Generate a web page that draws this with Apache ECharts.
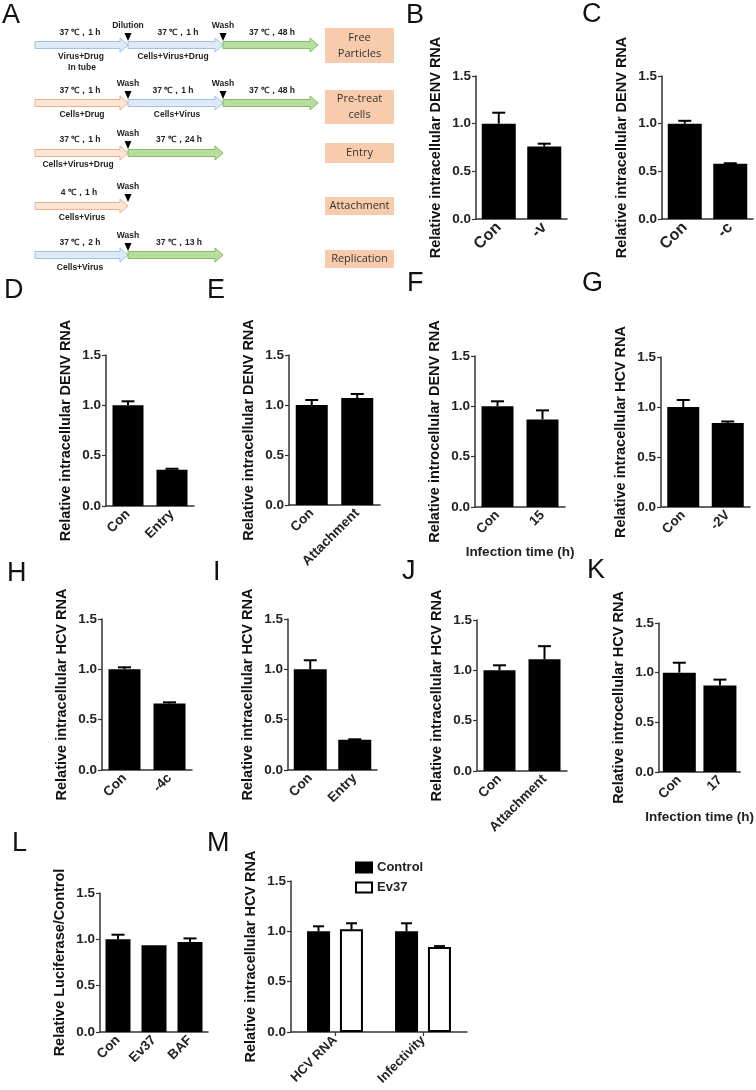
<!DOCTYPE html>
<html><head><meta charset="utf-8">
<script src="https://cdn.jsdelivr.net/npm/echarts@6/dist/echarts.min.js"></script>
<style>html,body{margin:0;padding:0;background:#fff}#c{width:756px;height:1090px}</style>
</head><body><div id="c"></div>
<script>
// ---------- data ----------
const yTicks = [0, 0.5, 1.0, 1.5];
const catsB = ['Con', '-v'],        valsB = [1.00, 0.76], errB = [0.115, 0.03];
const catsC = ['Con', '-c'],        valsC = [1.00, 0.58], errC = [0.03, 0.005];
const catsD = ['Con', 'Entry'],     valsD = [1.00, 0.36], errD = [0.04, 0.01];
const catsE = ['Con', 'Attachment'],valsE = [1.00, 1.07], errE = [0.05, 0.04];
const catsF = ['Con', '15'],        valsF = [1.00, 0.87], errF = [0.05, 0.09];
const catsG = ['Con', '-2V'],       valsG = [1.00, 0.84], errG = [0.07, 0.015];
const catsH = ['Con', '-4c'],       valsH = [1.00, 0.66], errH = [0.02, 0.012];
const catsI = ['Con', 'Entry'],     valsI = [1.00, 0.30], errI = [0.09, 0.005];
const catsJ = ['Con', 'Attachment'],valsJ = [1.00, 1.11], errJ = [0.05, 0.13];
const catsK = ['Con', '17'],        valsK = [1.00, 0.87], errK = [0.10, 0.06];
const catsL = ['Con', 'Ev37', 'BAF'], valsL = [1.00, 0.935, 0.97], errL = [0.05, 0, 0.04];
const catsM = ['HCV RNA', 'Infectivity'];
const ctrlM = [1.00, 1.00], ctrlErrM = [0.05, 0.08];
const ev37M = [1.02, 0.845], ev37ErrM = [0.06, 0.008];

// ---------- layout / style ----------
const FONT = 'Liberation Sans';
const panels = [
  {id:'B', cats:catsB, vals:valsB, err:errB, yname:'Relative intracellular DENV RNA', g:{left:476,top:76,width:91,height:143}, bw:34, cf:16},
  {id:'C', cats:catsC, vals:valsC, err:errC, yname:'Relative intracellular DENV RNA', g:{left:662,top:76,width:91,height:143}, bw:34, cf:16},
  {id:'D', cats:catsD, vals:valsD, err:errD, yname:'Relative intracellular DENV RNA', g:{left:106,top:355,width:88,height:151}, bw:31},
  {id:'E', cats:catsE, vals:valsE, err:errE, yname:'Relative intracellular DENV RNA', g:{left:289,top:355,width:91,height:150}, bw:32},
  {id:'F', cats:catsF, vals:valsF, err:errF, yname:'Relative introcellular DENV RNA', g:{left:475,top:356,width:90,height:151}, bw:32, xname:'Infection time (h)'},
  {id:'G', cats:catsG, vals:valsG, err:errG, yname:'Relative intracellular HCV RNA', g:{left:661,top:357,width:89,height:150}, bw:32},
  {id:'H', cats:catsH, vals:valsH, err:errH, yname:'Relative intracellular HCV RNA', g:{left:102,top:619,width:90,height:151}, bw:32},
  {id:'I', cats:catsI, vals:valsI, err:errI, yname:'Relative intracellular HCV RNA', g:{left:288,top:619,width:89,height:151}, bw:33},
  {id:'J', cats:catsJ, vals:valsJ, err:errJ, yname:'Relative intracellular HCV RNA', g:{left:477,top:620,width:90,height:151}, bw:32},
  {id:'K', cats:catsK, vals:valsK, err:errK, yname:'Relative introcellular HCV RNA', g:{left:659,top:623,width:91,height:149}, bw:33, xname:'Infection time (h)'},
  {id:'L', cats:catsL, vals:valsL, err:errL, yname:'Relative Luciferase/Control', g:{left:100,top:893,width:108,height:139}, bw:25}
];

const grids = [], xAxes = [], yAxes = [], series = [];

function yAxisCfg(i, name) {
  return {
    type:'value', gridIndex:i, min:yTicks[0], max:yTicks[yTicks.length-1], interval:0.5,
    name:name, nameLocation:'middle', nameGap:33, nameRotate:90,
    nameTextStyle:{fontFamily:FONT, fontWeight:'bold', fontSize:14.5, color:'#111'},
    axisLine:{show:true, lineStyle:{color:'#333', width:1.5}},
    axisTick:{show:true, length:4, lineStyle:{color:'#333', width:1.2}},
    splitLine:{show:false},
    axisLabel:{formatter:v=>v.toFixed(1), fontFamily:FONT, fontWeight:'bold', fontSize:13.5, color:'#222', margin:5}
  };
}
function xAxisCfg(i, cats, name, ticks, cf) {
  const c = {
    type:'category', gridIndex:i, data:cats,
    axisLine:{show:true, lineStyle:{color:'#333', width:1.5}},
    axisTick:{show:!!ticks, alignWithLabel:true, length:4, lineStyle:{color:'#333', width:1.2}},
    axisLabel:{rotate:45, interval:0, fontFamily:FONT, fontWeight:'bold', fontSize:cf || 13.5, color:'#222', margin:6}
  };
  if (name) {
    c.name = name; c.nameLocation = 'middle'; c.nameGap = 38;
    c.nameTextStyle = {fontFamily:FONT, fontWeight:'bold', fontSize:13.5, color:'#222'};
  }
  return c;
}
function errSeries(i, vals, err, off, cap) {
  return {
    type:'custom', xAxisIndex:i, yAxisIndex:i, z:5,
    data: vals.map((v, k) => [k, v, err[k]]),
    encode:{x:0, y:1},
    renderItem:function(params, api){
      const e = api.value(2);
      if (!e) return null;
      const p0 = api.coord([api.value(0), api.value(1)]);
      const p1 = api.coord([api.value(0), api.value(1) + e]);
      const x = p0[0] + off;
      return {type:'group', children:[
        {type:'line', shape:{x1:x, y1:p0[1], x2:x, y2:p1[1]}, style:{stroke:'#000', lineWidth:2}},
        {type:'line', shape:{x1:x-cap, y1:p1[1], x2:x+cap, y2:p1[1]}, style:{stroke:'#000', lineWidth:2}}
      ]};
    }
  };
}

panels.forEach((p, i) => {
  grids.push(Object.assign({containLabel:false}, p.g));
  xAxes.push(xAxisCfg(i, p.cats, p.xname, false, p.cf));
  yAxes.push(yAxisCfg(i, p.yname));
  series.push({type:'bar', xAxisIndex:i, yAxisIndex:i, data:p.vals, barWidth:p.bw,
    itemStyle:{color:'#000'}, silent:true});
  series.push(errSeries(i, p.vals, p.err, 0, 6.5));
});

// Panel M (grouped)
const mi = panels.length;
grids.push({left:291, top:881, width:176, height:151});
xAxes.push(xAxisCfg(mi, catsM, null, true, 13));
yAxes.push(yAxisCfg(mi, 'Relative intracellular HCV RNA'));
series.push({name:'Control', type:'bar', xAxisIndex:mi, yAxisIndex:mi, data:ctrlM, barWidth:23, barGap:'43%',
  itemStyle:{color:'#000', borderColor:'#000', borderWidth:1.5}});
series.push({name:'Ev37', type:'bar', xAxisIndex:mi, yAxisIndex:mi, data:ev37M, barWidth:23, barGap:'43%',
  itemStyle:{color:'#fff', borderColor:'#000', borderWidth:2}});
series.push(errSeries(mi, ctrlM, ctrlErrM, -16.5, 5.5));
series.push(errSeries(mi, ev37M, ev37ErrM, 16.5, 5.5));

// ---------- panel A diagram + letters ----------
const G = [];
const BLUE = ['#deebf7', '#9dc3e6'], PEACH = ['#fbe5d6', '#f4b183'], GREEN = ['#b7dea0', '#7fbf5c'];
function arrow(x0, x1, yc, col) {
  G.push({type:'polygon', shape:{points:[[x0,yc-3.5],[x1-8,yc-3.5],[x1-8,yc-7],[x1,yc],[x1-8,yc+7],[x1-8,yc+3.5],[x0,yc+3.5]]},
    style:{fill:col[0], stroke:col[1], lineWidth:1}});
}
function marker(x, yc, label) {
  G.push({type:'polygon', shape:{points:[[x-3.5,yc-12],[x+3.5,yc-12],[x,yc-4]]}, style:{fill:'#000'}, z:10});
  G.push({type:'text', x:x, y:yc-19, style:{text:label, fontFamily:FONT, fontWeight:'bold', fontSize:8.5, fill:'#222', align:'center', verticalAlign:'middle'}});
}
function small(x, y, t) {
  G.push({type:'text', x:x, y:y, style:{text:t, fontFamily:FONT, fontWeight:'bold', fontSize:8.5, fill:'#222', align:'center', verticalAlign:'middle'}});
}
function box(y0, y1, t) {
  G.push({type:'rect', shape:{x:325, y:y0, width:69, height:y1-y0}, style:{fill:'#f8cbad'}});
  G.push({type:'text', x:359.5, y:(y0+y1)/2, style:{text:t, fontFamily:'Open Sans', fontSize:11, fill:'#333', align:'center', verticalAlign:'middle', lineHeight:16}});
}
// row 1
arrow(35,128,45,BLUE); arrow(128,223,45,BLUE); arrow(223,318,45,GREEN);
marker(128,45,'Dilution'); marker(223,45,'Wash');
small(80,33,'37 ℃，1 h'); small(178,33,'37 ℃，1 h'); small(272,33,'37 ℃，48 h');
small(81,57,'Virus+Drug'); small(82,68,'In tube'); small(173,57,'Cells+Virus+Drug');
box(28,63,'Free\nParticles');
// row 2
arrow(35,128,103,PEACH); arrow(128,223,103,BLUE); arrow(223,318,103,GREEN);
marker(128,103,'Wash'); marker(223,103,'Wash');
small(80,91,'37 ℃，1 h'); small(173,91,'37 ℃，1 h'); small(272,91,'37 ℃，48 h');
small(82,115,'Cells+Drug'); small(177,115,'Cells+Virus');
box(90,124,'Pre-treat\ncells');
// row 3
arrow(35,128,153,PEACH); arrow(128,223,153,GREEN);
marker(128,153,'Wash');
small(80,140,'37 ℃，1 h'); small(179,140,'37 ℃，24 h');
small(78,165,'Cells+Virus+Drug');
box(143,163,'Entry');
// row 4
arrow(35,128,206,PEACH);
marker(128,206,'Wash');
small(79,193,'4 ℃，1 h');
small(82,218,'Cells+Virus');
box(197,215,'Attachment');
// row 5
arrow(35,128,255,BLUE); arrow(128,223,255,GREEN);
marker(128,255,'Wash');
small(80,243,'37 ℃，2 h'); small(179,243,'37 ℃，13 h');
small(80,268,'Cells+Virus');
box(250,268,'Replication');

// panel letters
const letters = [['A',2,7],['B',406,7],['C',582,6],['D',4,282],['E',207,282],['F',407,275],['G',582,275],
  ['H',7,565],['I',213,564],['J',402,563],['K',587,562],['L',12,835],['M',207,835]];
letters.forEach(l => G.push({type:'text', x:l[1], y:l[2]-5, style:{text:l[0], fontFamily:FONT, fontSize:27, fill:'#111', align:'left', verticalAlign:'top'}}));

const chart = echarts.init(document.getElementById('c'), null, {renderer:'canvas'});
chart.setOption({
  backgroundColor:'#fff', animation:false,
  grid:grids, xAxis:xAxes, yAxis:yAxes, series:series,
  legend:{data:['Control','Ev37'], left:350, top:856, orient:'vertical', itemWidth:16, itemHeight:10, itemGap:7,
    icon:'rect', textStyle:{fontFamily:FONT, fontWeight:'bold', fontSize:13, color:'#222'}, selectedMode:false},
  graphic:G
});
</script></body></html>
